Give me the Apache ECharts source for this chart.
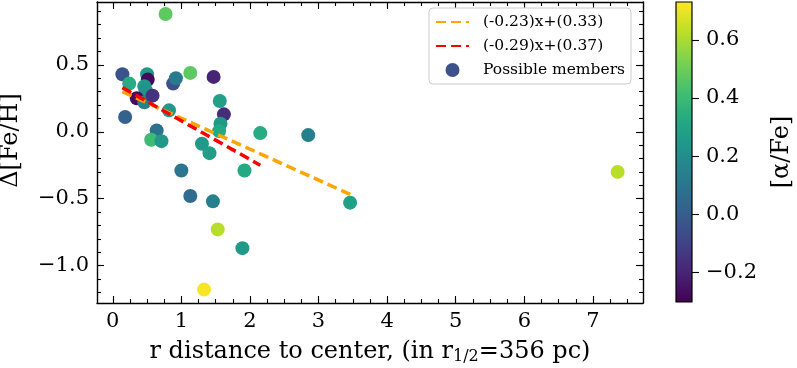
<!DOCTYPE html>
<html>
<head>
<meta charset="utf-8">
<script src="https://cdn.jsdelivr.net/npm/echarts@6/dist/echarts.min.js"></script>
<style>
  html, body { margin: 0; padding: 0; background: #fff; }
  #chart { width: 797px; height: 368px; }
</style>
</head>
<body>
<div id="chart"></div>
<script>
// distance to center (in r_1/2), delta [Fe/H], [alpha/Fe]
var rDist   = [0.77, 0.14, 0.50, 0.51, 0.24, 0.46, 0.48, 0.35, 0.46, 0.58, 0.88, 0.92, 1.13, 1.47, 0.82, 0.18, 1.56, 1.62, 1.57, 1.55, 2.15, 0.64, 0.56, 0.71, 1.30, 1.41, 1.00, 1.92, 1.13, 1.46, 1.53, 1.89, 1.33, 2.85, 3.46, 7.36];
var dFeH    = [0.88, 0.43, 0.43, 0.39, 0.36, 0.34, 0.31, 0.25, 0.22, 0.27, 0.36, 0.40, 0.44, 0.41, 0.16, 0.11, 0.23, 0.13, 0.06, 0.005, -0.01, 0.01, -0.06, -0.07, -0.09, -0.16, -0.29, -0.29, -0.48, -0.52, -0.73, -0.87, -1.18, -0.025, -0.53, -0.30];
var alphaFe = [0.47, -0.04, 0.25, -0.28, 0.33, 0.25, 0.22, -0.27, 0.15, -0.15, -0.05, 0.12, 0.47, -0.20, 0.25, 0.02, 0.28, -0.17, 0.25, 0.32, 0.33, 0.08, 0.40, 0.25, 0.25, 0.27, 0.10, 0.32, 0.06, 0.14, 0.62, 0.25, 0.72, 0.14, 0.28, 0.62];

// fitted lines, end points
var fitAName = '(-0.23)x+(0.33)';
var fitAx = [0.14, 3.47];
var fitAy = [0.30, -0.47];
var fitBName = '(-0.29)x+(0.37)';
var fitBx = [0.14, 2.15];
var fitBy = [0.33, -0.25];

var xTicks = [0, 1, 2, 3, 4, 5, 6, 7];
var yTicks = [-1.0, -0.5, 0.0, 0.5];
var cbTicks = [-0.2, 0.0, 0.2, 0.4, 0.6];
var xRange = [-0.23, 7.73];
var yRange = [-1.28, 0.97];
var cbRange = [-0.303, 0.731];

var viridis = ['#440154', '#482475', '#414487', '#355f8d', '#2a788e', '#21918c',
               '#22a884', '#44bf70', '#7ad151', '#bddf26', '#fde725'];

var xMinor = [];
for (var i = 0; i <= 30; i++) xMinor.push(i * 0.25);
var yMinor = [];
for (var j = -12; j <= 9; j++) yMinor.push(j / 10);

var FONT = 'DejaVu Serif';
var fmt = function (v) {
    var s = Math.abs(v).toFixed(1);
    return (v < -1e-9 ? '\u2212' : '') + s;
};

var scatterData = rDist.map(function (x, k) { return [x, dFeH[k], alphaFe[k]]; });
var lineA = fitAx.map(function (x, k) { return [x, fitAy[k]]; });
var lineB = fitBx.map(function (x, k) { return [x, fitBy[k]]; });

function tickAxis(pos, vals, len, withLine) {
    return {
        position: pos,
        nameMoveOverlap: false,
        axisLine: { show: withLine, onZero: false, lineStyle: { color: '#000', width: 1.4 } },
        axisTick: { show: true, inside: true, length: len, customValues: vals,
                    lineStyle: { color: '#000', width: 1.1 } },
        axisLabel: { show: false },
        splitLine: { show: false }
    };
}

var xAxes = [
    Object.assign(tickAxis('bottom', xTicks, 7, true), {
        axisLabel: { show: true, customValues: xTicks, margin: 8, color: '#000',
                     fontFamily: FONT, fontSize: 21 },
        name: '{a|r distance to center, (in r}{s|1/2}{a|=356 pc)}',
        nameLocation: 'middle', nameGap: 36,
        nameTextStyle: {
            rich: {
                a: { fontFamily: FONT, fontSize: 24, color: '#000', lineHeight: 26 },
                s: { fontFamily: FONT, fontSize: 16, color: '#000', lineHeight: 26,
                     verticalAlign: 'bottom', padding: [9, 0, 0, 0] }
            }
        }
    }),
    tickAxis('bottom', xMinor, 4, false),
    tickAxis('top', xTicks, 7, true),
    tickAxis('top', xMinor, 4, false)
];
xAxes.forEach(function (a) { a.type = 'value'; a.min = xRange[0]; a.max = xRange[1]; a.gridIndex = 0; });

var yAxes = [
    Object.assign(tickAxis('left', yTicks, 7, true), {
        axisLabel: { show: true, customValues: yTicks, margin: 8, color: '#000',
                     fontFamily: FONT, fontSize: 21, formatter: fmt },
        name: '\u0394[Fe/H]', nameLocation: 'middle', nameRotate: 90, nameGap: 74,
        nameTextStyle: { fontFamily: FONT, fontSize: 24, color: '#000', padding: [0, 0, 0, 24] }
    }),
    tickAxis('left', yMinor, 4, false),
    tickAxis('right', yTicks, 7, true),
    tickAxis('right', yMinor, 4, false)
];
yAxes.forEach(function (a) { a.type = 'value'; a.min = yRange[0]; a.max = yRange[1]; a.gridIndex = 0; });

// colourbar axes
xAxes.push({ type: 'value', gridIndex: 1, min: 0, max: 1, show: false });
yAxes.push({
    type: 'value', gridIndex: 1, position: 'right', min: cbRange[0], max: cbRange[1],
    nameMoveOverlap: false,
    axisLine: { show: false, onZero: false },
    axisTick: { show: true, inside: false, length: 7, customValues: cbTicks,
                lineStyle: { color: '#000', width: 1.1 } },
    axisLabel: { show: true, customValues: cbTicks, margin: 14, color: '#000',
                 fontFamily: FONT, fontSize: 21, formatter: fmt },
    splitLine: { show: false },
    name: '[\u03b1/Fe]', nameLocation: 'middle', nameRotate: 90, nameGap: 78,
    nameTextStyle: { fontFamily: FONT, fontSize: 24, color: '#000' }
});

var gradStops = viridis.map(function (c, k) { return { offset: k / (viridis.length - 1), color: c }; });

var option = {
    animation: false,
    backgroundColor: '#fff',
    grid: [
        { left: 97, top: 2, width: 546, height: 301, containLabel: false, outerBoundsMode: 'none' },
        { left: 676, top: 2, width: 16, height: 300, containLabel: false, outerBoundsMode: 'none' }
    ],
    xAxis: xAxes,
    yAxis: yAxes,
    visualMap: {
        type: 'continuous', show: false, seriesIndex: 0, dimension: 2,
        min: cbRange[0], max: cbRange[1], inRange: { color: viridis }
    },
    legend: {
        orient: 'vertical', left: 429, top: 8,
        itemWidth: 33, itemHeight: 14, itemGap: 8,
        padding: [6, 6, 6, 6],
        backgroundColor: '#fff', borderColor: '#cccccc', borderWidth: 1, borderRadius: 4,
        textStyle: { fontFamily: FONT, fontSize: 15.5, color: '#000', lineHeight: 14, padding: [0, 0, 0, 9] },
        data: [
            fitAName, fitBName,
            { name: 'Possible members', icon: 'circle', itemStyle: { color: '#3b528b', opacity: 1 } }
        ]
    },
    series: [
        {
            name: 'Possible members', type: 'scatter', xAxisIndex: 0, yAxisIndex: 0,
            symbolSize: 14, z: 2, data: scatterData,
            itemStyle: { color: '#3b528b', opacity: 1 }
        },
        {
            name: fitAName, type: 'line', xAxisIndex: 0, yAxisIndex: 0, z: 3,
            symbol: 'none', data: lineA,
            lineStyle: { color: '#ffa500', width: 3.5, type: [10, 5] },
            itemStyle: { color: '#ffa500', opacity: 0 }
        },
        {
            name: fitBName, type: 'line', xAxisIndex: 0, yAxisIndex: 0, z: 4,
            symbol: 'none', data: lineB,
            lineStyle: { color: '#ff0000', width: 3.5, type: [10, 5] },
            itemStyle: { color: '#ff0000', opacity: 0 }
        },
        {
            type: 'custom', xAxisIndex: 4, yAxisIndex: 4, silent: true,
            data: [[cbRange[0], cbRange[1]]],
            renderItem: function (params, api) {
                var p0 = api.coord([0, api.value(1)]);
                var p1 = api.coord([1, api.value(0)]);
                return {
                    type: 'rect',
                    shape: { x: p0[0], y: p0[1], width: p1[0] - p0[0], height: p1[1] - p0[1] },
                    style: {
                        fill: new echarts.graphic.LinearGradient(0, 1, 0, 0, gradStops),
                        stroke: '#000', lineWidth: 1.2
                    }
                };
            }
        }
    ]
};

var myChart = echarts.init(document.getElementById('chart'));
myChart.setOption(option);
</script>
</body>
</html>
